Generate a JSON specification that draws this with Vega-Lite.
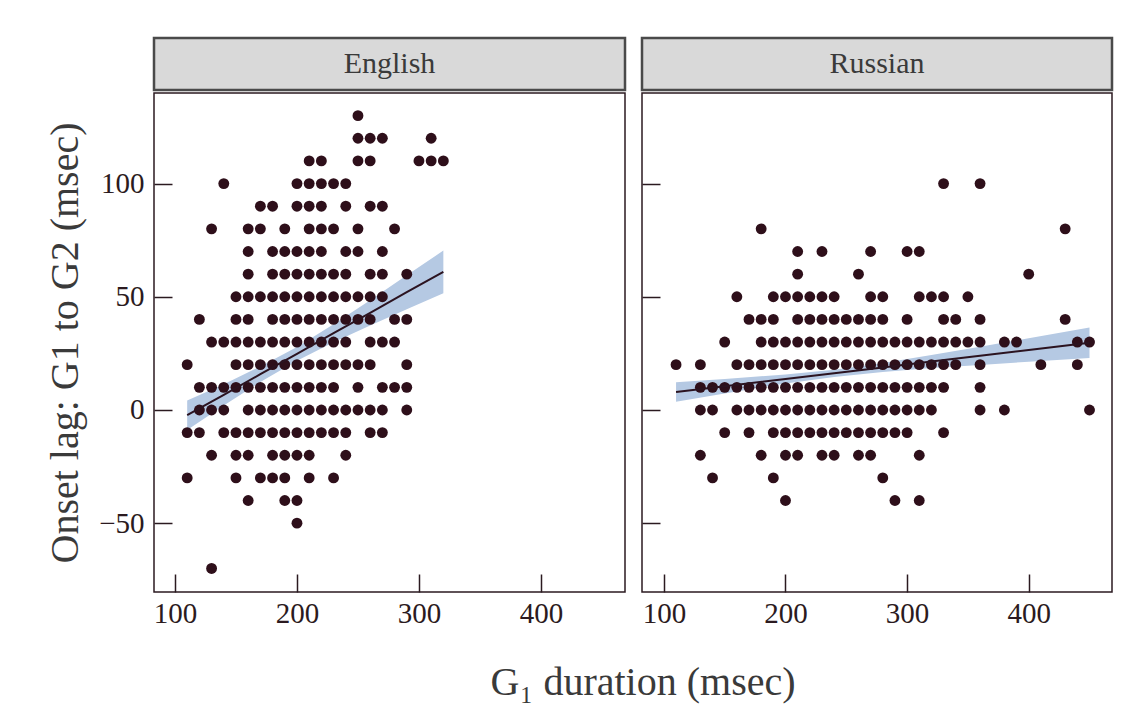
{
  "$schema": "https://vega.github.io/schema/vega-lite/v6.json",
  "padding": {"left": 44, "top": 36, "right": 5, "bottom": 5},
  "background": "white",
  "title": {"text": "G₁ duration (msec)", "orient": "bottom", "anchor": "middle", "fontSize": 40, "font": "Liberation Serif", "fontWeight": "normal", "color": "#3a3a3a", "offset": 34, "dx": 64},
  "datasets": {
    "en_pts": [
      {"x":250,"y":130},
      {"x":250,"y":120},{"x":260,"y":120},{"x":270,"y":120},{"x":310,"y":120},
      {"x":210,"y":110},{"x":220,"y":110},{"x":250,"y":110},{"x":260,"y":110},{"x":300,"y":110},{"x":310,"y":110},{"x":320,"y":110},
      {"x":140,"y":100},{"x":200,"y":100},{"x":210,"y":100},{"x":220,"y":100},{"x":230,"y":100},{"x":240,"y":100},
      {"x":170,"y":90},{"x":180,"y":90},{"x":200,"y":90},{"x":210,"y":90},{"x":220,"y":90},{"x":240,"y":90},{"x":260,"y":90},{"x":270,"y":90},
      {"x":130,"y":80},{"x":160,"y":80},{"x":170,"y":80},{"x":190,"y":80},{"x":210,"y":80},{"x":220,"y":80},{"x":230,"y":80},{"x":250,"y":80},{"x":280,"y":80},
      {"x":160,"y":70},{"x":180,"y":70},{"x":190,"y":70},{"x":200,"y":70},{"x":210,"y":70},{"x":220,"y":70},{"x":240,"y":70},{"x":250,"y":70},{"x":270,"y":70},
      {"x":160,"y":60},{"x":180,"y":60},{"x":190,"y":60},{"x":200,"y":60},{"x":210,"y":60},{"x":220,"y":60},{"x":230,"y":60},{"x":240,"y":60},{"x":260,"y":60},{"x":270,"y":60},{"x":290,"y":60},
      {"x":150,"y":50},{"x":160,"y":50},{"x":170,"y":50},{"x":180,"y":50},{"x":190,"y":50},{"x":200,"y":50},{"x":210,"y":50},{"x":220,"y":50},{"x":230,"y":50},{"x":240,"y":50},{"x":250,"y":50},{"x":260,"y":50},{"x":270,"y":50},
      {"x":120,"y":40},{"x":150,"y":40},{"x":160,"y":40},{"x":180,"y":40},{"x":190,"y":40},{"x":200,"y":40},{"x":210,"y":40},{"x":220,"y":40},{"x":230,"y":40},{"x":240,"y":40},{"x":250,"y":40},{"x":260,"y":40},{"x":280,"y":40},{"x":290,"y":40},
      {"x":130,"y":30},{"x":140,"y":30},{"x":150,"y":30},{"x":160,"y":30},{"x":170,"y":30},{"x":180,"y":30},{"x":190,"y":30},{"x":200,"y":30},{"x":210,"y":30},{"x":220,"y":30},{"x":230,"y":30},{"x":240,"y":30},{"x":260,"y":30},{"x":270,"y":30},{"x":280,"y":30},
      {"x":110,"y":20},{"x":150,"y":20},{"x":160,"y":20},{"x":170,"y":20},{"x":180,"y":20},{"x":190,"y":20},{"x":200,"y":20},{"x":210,"y":20},{"x":220,"y":20},{"x":230,"y":20},{"x":240,"y":20},{"x":250,"y":20},{"x":260,"y":20},{"x":290,"y":20},
      {"x":120,"y":10},{"x":130,"y":10},{"x":140,"y":10},{"x":150,"y":10},{"x":160,"y":10},{"x":170,"y":10},{"x":180,"y":10},{"x":190,"y":10},{"x":200,"y":10},{"x":210,"y":10},{"x":220,"y":10},{"x":230,"y":10},{"x":250,"y":10},{"x":270,"y":10},{"x":280,"y":10},{"x":290,"y":10},
      {"x":120,"y":0},{"x":130,"y":0},{"x":140,"y":0},{"x":160,"y":0},{"x":170,"y":0},{"x":180,"y":0},{"x":190,"y":0},{"x":200,"y":0},{"x":210,"y":0},{"x":220,"y":0},{"x":230,"y":0},{"x":240,"y":0},{"x":250,"y":0},{"x":260,"y":0},{"x":270,"y":0},{"x":290,"y":0},
      {"x":110,"y":-10},{"x":120,"y":-10},{"x":140,"y":-10},{"x":150,"y":-10},{"x":160,"y":-10},{"x":170,"y":-10},{"x":180,"y":-10},{"x":190,"y":-10},{"x":200,"y":-10},{"x":210,"y":-10},{"x":220,"y":-10},{"x":230,"y":-10},{"x":240,"y":-10},{"x":260,"y":-10},{"x":270,"y":-10},
      {"x":130,"y":-20},{"x":150,"y":-20},{"x":160,"y":-20},{"x":180,"y":-20},{"x":190,"y":-20},{"x":200,"y":-20},{"x":210,"y":-20},{"x":240,"y":-20},
      {"x":110,"y":-30},{"x":150,"y":-30},{"x":170,"y":-30},{"x":180,"y":-30},{"x":190,"y":-30},{"x":210,"y":-30},{"x":230,"y":-30},
      {"x":160,"y":-40},{"x":190,"y":-40},{"x":200,"y":-40},
      {"x":200,"y":-50},
      {"x":130,"y":-70}
    ],
    "ru_pts": [
      {"x":330,"y":100},{"x":360,"y":100},
      {"x":180,"y":80},{"x":430,"y":80},
      {"x":210,"y":70},{"x":230,"y":70},{"x":270,"y":70},{"x":300,"y":70},{"x":310,"y":70},
      {"x":210,"y":60},{"x":260,"y":60},{"x":400,"y":60},
      {"x":160,"y":50},{"x":190,"y":50},{"x":200,"y":50},{"x":210,"y":50},{"x":220,"y":50},{"x":230,"y":50},{"x":240,"y":50},{"x":270,"y":50},{"x":280,"y":50},{"x":310,"y":50},{"x":320,"y":50},{"x":330,"y":50},{"x":350,"y":50},
      {"x":170,"y":40},{"x":180,"y":40},{"x":190,"y":40},{"x":210,"y":40},{"x":220,"y":40},{"x":230,"y":40},{"x":240,"y":40},{"x":250,"y":40},{"x":260,"y":40},{"x":270,"y":40},{"x":280,"y":40},{"x":300,"y":40},{"x":330,"y":40},{"x":340,"y":40},{"x":360,"y":40},{"x":430,"y":40},
      {"x":150,"y":30},{"x":180,"y":30},{"x":190,"y":30},{"x":200,"y":30},{"x":210,"y":30},{"x":220,"y":30},{"x":230,"y":30},{"x":240,"y":30},{"x":250,"y":30},{"x":260,"y":30},{"x":270,"y":30},{"x":280,"y":30},{"x":290,"y":30},{"x":300,"y":30},{"x":310,"y":30},{"x":320,"y":30},{"x":330,"y":30},{"x":340,"y":30},{"x":350,"y":30},{"x":360,"y":30},{"x":380,"y":30},{"x":390,"y":30},{"x":440,"y":30},{"x":450,"y":30},
      {"x":110,"y":20},{"x":130,"y":20},{"x":160,"y":20},{"x":170,"y":20},{"x":180,"y":20},{"x":190,"y":20},{"x":200,"y":20},{"x":210,"y":20},{"x":220,"y":20},{"x":230,"y":20},{"x":240,"y":20},{"x":250,"y":20},{"x":260,"y":20},{"x":270,"y":20},{"x":280,"y":20},{"x":290,"y":20},{"x":300,"y":20},{"x":310,"y":20},{"x":320,"y":20},{"x":330,"y":20},{"x":340,"y":20},{"x":360,"y":20},{"x":410,"y":20},{"x":440,"y":20},
      {"x":130,"y":10},{"x":140,"y":10},{"x":150,"y":10},{"x":160,"y":10},{"x":170,"y":10},{"x":180,"y":10},{"x":190,"y":10},{"x":200,"y":10},{"x":210,"y":10},{"x":220,"y":10},{"x":230,"y":10},{"x":240,"y":10},{"x":250,"y":10},{"x":260,"y":10},{"x":270,"y":10},{"x":280,"y":10},{"x":290,"y":10},{"x":300,"y":10},{"x":310,"y":10},{"x":320,"y":10},{"x":330,"y":10},{"x":360,"y":10},
      {"x":130,"y":0},{"x":140,"y":0},{"x":160,"y":0},{"x":170,"y":0},{"x":180,"y":0},{"x":190,"y":0},{"x":200,"y":0},{"x":210,"y":0},{"x":220,"y":0},{"x":230,"y":0},{"x":240,"y":0},{"x":250,"y":0},{"x":260,"y":0},{"x":270,"y":0},{"x":280,"y":0},{"x":290,"y":0},{"x":300,"y":0},{"x":310,"y":0},{"x":320,"y":0},{"x":360,"y":0},{"x":380,"y":0},{"x":450,"y":0},
      {"x":150,"y":-10},{"x":170,"y":-10},{"x":190,"y":-10},{"x":200,"y":-10},{"x":210,"y":-10},{"x":220,"y":-10},{"x":230,"y":-10},{"x":240,"y":-10},{"x":250,"y":-10},{"x":260,"y":-10},{"x":270,"y":-10},{"x":280,"y":-10},{"x":290,"y":-10},{"x":300,"y":-10},{"x":330,"y":-10},
      {"x":130,"y":-20},{"x":180,"y":-20},{"x":200,"y":-20},{"x":210,"y":-20},{"x":230,"y":-20},{"x":240,"y":-20},{"x":260,"y":-20},{"x":270,"y":-20},{"x":310,"y":-20},
      {"x":140,"y":-30},{"x":190,"y":-30},{"x":280,"y":-30},
      {"x":200,"y":-40},{"x":290,"y":-40},{"x":310,"y":-40}
    ],
    "en_fit": [
      {"x":110,"fit":-2.3,"lo":-8.8,"hi":4.2},
      {"x":140,"fit":6.7,"lo":2.0,"hi":11.4},
      {"x":170,"fit":15.8,"lo":12.4,"hi":19.2},
      {"x":200,"fit":24.8,"lo":21.75,"hi":27.85},
      {"x":230,"fit":33.9,"lo":29.9,"hi":37.9},
      {"x":260,"fit":42.9,"lo":37.3,"hi":48.5},
      {"x":290,"fit":52.0,"lo":44.5,"hi":59.5},
      {"x":320,"fit":61.0,"lo":51.6,"hi":70.4}
    ],
    "ru_fit": [
      {"x":110,"fit":7.9,"lo":3.6,"hi":12.2},
      {"x":150,"fit":10.5,"lo":7.3,"hi":13.7},
      {"x":200,"fit":13.7,"lo":11.7,"hi":15.7},
      {"x":240,"fit":16.2,"lo":14.6,"hi":17.8},
      {"x":280,"fit":18.8,"lo":16.8,"hi":20.8},
      {"x":320,"fit":21.4,"lo":18.5,"hi":24.3},
      {"x":360,"fit":23.9,"lo":19.9,"hi":27.9},
      {"x":400,"fit":26.5,"lo":21.3,"hi":31.7},
      {"x":450,"fit":29.7,"lo":23.0,"hi":36.4}
    ],
    "en_head": [{"lang": "English"}],
    "ru_head": [{"lang": "Russian"}]
  },
  "hconcat": [
    {
      "spacing": 0,
      "vconcat": [
        {
          "width": 471, "height": 52,
          "view": {"fill": "#d9d9d9", "stroke": "#4a4a4a", "strokeWidth": 2.5},
          "data": {"name": "en_head"},
          "mark": {"type": "text", "fontSize": 30, "color": "#3a3a3a", "font": "Liberation Serif", "baseline": "middle", "align": "center"},
          "encoding": {"text": {"field": "lang"}}
        },
        {
          "width": 471, "height": 499,
          "layer": [
            {
              "data": {"name": "en_fit"},
              "mark": {"type": "area", "color": "#b5c9e3", "opacity": 1},
              "encoding": {
                "x": {"field": "x", "type": "quantitative", "scale": {"domain": [82.8, 468.9], "nice": false, "zero": false}},
                "y": {"field": "lo", "type": "quantitative", "scale": {"domain": [-80.4, 140], "nice": false, "zero": false}},
                "y2": {"field": "hi"}
              }
            },
            {
              "data": {"name": "en_pts"},
              "mark": {"type": "circle", "size": 118, "color": "#2e0f1a", "opacity": 1},
              "encoding": {
                "x": {"field": "x", "type": "quantitative"},
                "y": {"field": "y", "type": "quantitative"}
              }
            },
            {
              "data": {"name": "en_fit"},
              "mark": {"type": "line", "color": "#2b1320", "strokeWidth": 2},
              "encoding": {
                "x": {"field": "x", "type": "quantitative",
                  "axis": {"values": [100, 200, 300, 400], "title": null, "labelPadding": 25}},
                "y": {"field": "fit", "type": "quantitative",
                  "axis": {"values": [-50, 0, 50, 100], "title": "Onset lag: G1 to G2 (msec)", "titleFontSize": 40, "titleColor": "#3a3a3a", "titleFontWeight": "normal", "titlePadding": 13, "titleFont": "Liberation Serif", "labelPadding": 28}}
              }
            }
          ]
        }
      ]
    },
    {
      "spacing": 0,
      "vconcat": [
        {
          "width": 470, "height": 52,
          "view": {"fill": "#d9d9d9", "stroke": "#4a4a4a", "strokeWidth": 2.5},
          "data": {"name": "ru_head"},
          "mark": {"type": "text", "fontSize": 30, "color": "#3a3a3a", "font": "Liberation Serif", "baseline": "middle", "align": "center"},
          "encoding": {"text": {"field": "lang"}}
        },
        {
          "width": 470, "height": 499,
          "layer": [
            {
              "data": {"name": "ru_fit"},
              "mark": {"type": "area", "color": "#b5c9e3", "opacity": 1},
              "encoding": {
                "x": {"field": "x", "type": "quantitative", "scale": {"domain": [82, 468.5], "nice": false, "zero": false}},
                "y": {"field": "lo", "type": "quantitative", "scale": {"domain": [-80.4, 140], "nice": false, "zero": false}},
                "y2": {"field": "hi"}
              }
            },
            {
              "data": {"name": "ru_pts"},
              "mark": {"type": "circle", "size": 118, "color": "#2e0f1a", "opacity": 1},
              "encoding": {
                "x": {"field": "x", "type": "quantitative"},
                "y": {"field": "y", "type": "quantitative"}
              }
            },
            {
              "data": {"name": "ru_fit"},
              "mark": {"type": "line", "color": "#2b1320", "strokeWidth": 2},
              "encoding": {
                "x": {"field": "x", "type": "quantitative",
                  "axis": {"values": [100, 200, 300, 400], "title": null, "labelPadding": 25}},
                "y": {"field": "fit", "type": "quantitative",
                  "axis": {"values": [-50, 0, 50, 100], "title": null, "labels": false}}
              }
            }
          ]
        }
      ]
    }
  ],
  "spacing": 13,
  "config": {
    "font": "Liberation Serif",
    "view": {"stroke": "#2b1a20", "strokeWidth": 1.5},
    "axis": {
      "grid": false,
      "domain": false,
      "tickColor": "#2b1a20",
      "tickSize": -18,
      "tickWidth": 1.5,
      "labelFont": "Liberation Serif",
      "labelFontSize": 29,
      "labelColor": "#2b1a20",
      "labelPadding": 10
    }
  }
}
